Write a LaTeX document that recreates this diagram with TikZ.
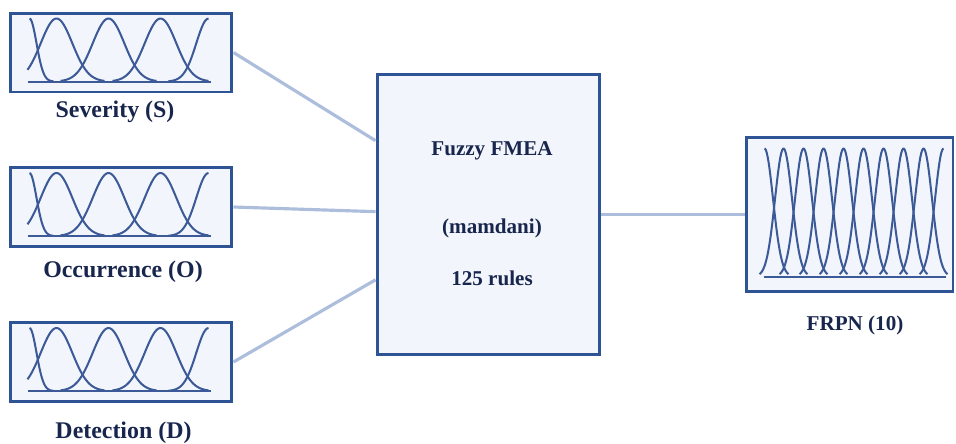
\documentclass[tikz,border=0pt]{standalone}
\usepackage{fontspec}
\setmainfont{Liberation Serif}
\usetikzlibrary{calc}

\definecolor{boxblue}{RGB}{47,84,150}
\definecolor{boxfill}{RGB}{242,245,251}
\definecolor{linkblue}{RGB}{172,190,220}
\definecolor{curveblue}{RGB}{60,90,152}
\definecolor{textnavy}{RGB}{24,38,78}

% membership functions of an input box, local px coordinates
\newcommand{\inmf}[1]{%
  \begin{scope}[shift={(#1.north west)}]
    \draw[mf] (19,70) -- (202,70);
    \draw[mf] plot[domain=21:45,samples=30] (\x,{70-63*exp(-((\x-21)^2)/98)});
    \foreach \c in {48,100,152}
      \draw[mf] plot[domain={max(19,\c-48)}:{min(202,\c+48)},samples=60] (\x,{70-63*exp(-((\x-\c)^2)/500)});
    \draw[mf] plot[domain=160:200,samples=30] (\x,{70-63*exp(-((\x-200)^2)/300)});
  \end{scope}}

\begin{document}
\begin{tikzpicture}
        [x=0.02cm,y=-0.02cm,
         box/.style={draw=boxblue,fill=boxfill,line width=1.7pt,inner sep=0pt},
         inbox/.style={box,minimum width=4.44cm,minimum height=1.58cm},
         mf/.style={curveblue,line width=1.15pt,line join=round},
         lbl/.style={text=textnavy,font=\bfseries\fontsize{13.6}{16}\selectfont,inner sep=0pt,anchor=base},
         txt/.style={text=textnavy,font=\bfseries\fontsize{12}{14}\selectfont,inner sep=0pt,anchor=base}]
        \useasboundingbox (0,0) rectangle (956,443);

        % inputs
        \node[inbox]  (S) at      (121,52.5)      {};
        \node[inbox]  (O) at      (121,207)       {};
        \node[inbox]  (D) at      (121,362)       {};
        \inmf{S}
        \inmf{O}
        \inmf{D}
        \node[lbl]    (Slbl) at   (115,117)       {Severity (S)};
        \node[lbl]    (Olbl) at   (123,277)       {Occurrence (O)};
        \node[lbl]    (Dlbl) at   (123.5,438)     {Detection (D)};

        % inference
        \node[box,minimum width=4.46cm,minimum height=5.62cm]  (F) at (488.5,214.5) {};
        \node[txt]    (F1) at     (492,155)       {Fuzzy FMEA};
        \node[txt]    (F2) at     (492,233)       {(mamdani)};
        \node[txt]    (F3) at     (492,285)       {125 rules};

        % output
        \node[box,minimum width=4.14cm,minimum height=3.1cm]   (R) at (849.5,214.5) {};
        \begin{scope}[shift={(R.north west)}]
          \draw[mf] (19,141) -- (201,141);
          \draw[mf] plot[domain=20:44,samples=30] (\x,{141-128*exp(-((\x-20)^2)/144.5)});
          \foreach \c in {39,59,...,179}
            \draw[mf] plot[domain=\c-24:\c+24,samples=50] (\x,{141-128*exp(-((\x-\c)^2)/144.5)});
          \draw[mf] plot[domain=175:199,samples=30] (\x,{141-128*exp(-((\x-199)^2)/144.5)});
        \end{scope}
        \node[txt]    (Rlbl) at   (855,330)       {FRPN (10)};

        \draw[linkblue, line width=1.8pt]
        (S.east)      edge        ($(F.north west)!0.24!(F.south west)$)
        (O.east)      edge        ($(F.north west)!0.49!(F.south west)$)
        (D.east)      edge        ($(F.north west)!0.73!(F.south west)$)
        (F.east)      edge        (R.west);
\end{tikzpicture}
\end{document}
